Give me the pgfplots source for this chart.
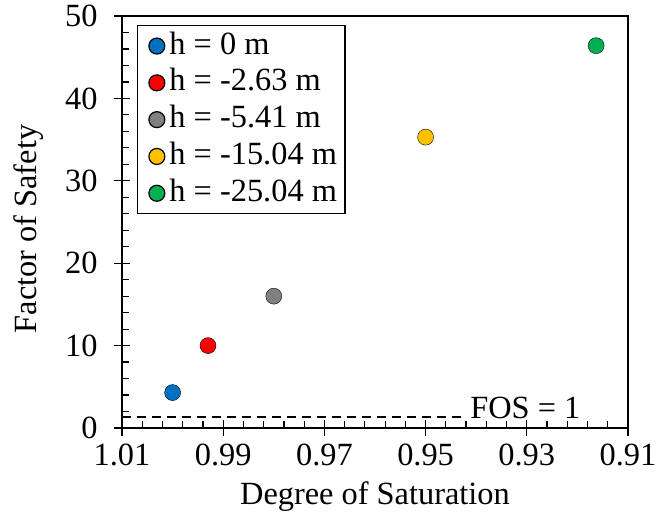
\documentclass[border=0pt]{standalone}
\usepackage{fontspec}
\setmainfont{Liberation Serif}
\usepackage{pgfplots}
\pgfplotsset{compat=1.18}
\definecolor{cblue}{RGB}{0,112,192}
\definecolor{cred}{RGB}{255,0,0}
\definecolor{cgray}{RGB}{128,128,128}
\definecolor{cyellow}{RGB}{255,192,0}
\definecolor{cgreen}{RGB}{0,176,80}
\newcommand{\bigf}{\fontsize{32.5}{37}\selectfont}

\begin{document}
\begin{tikzpicture}
\useasboundingbox (-122bp,-89bp) rectangle (536bp,428bp);
\begin{axis}[
    at={(0,0)}, anchor=south west,
    scale only axis, width=506bp, height=412bp,
    x dir=reverse,
    xmin=0.91, xmax=1.01, ymin=0, ymax=50,
    xtick={0.91,0.93,0.95,0.97,0.99,1.01},
    xticklabels={0.91,0.93,0.95,0.97,0.99,1.01},
    ytick={0,10,20,30,40,50},
    minor x tick num=4, minor y tick num=4,
    tick pos=left,
    tick align=center,
    major tick length=16bp, minor tick length=7bp,
    minor x tick style={yshift=3.5bp},
    minor y tick style={xshift=3.5bp},
    tick style={black, line width=1.2bp},
    axis line style={line width=1.2bp},
    ticklabel style={font=\bigf},
    xticklabel style={yshift=-4bp},
    yticklabel style={xshift=-13bp},
    /pgf/number format/assume math mode=true,
    label style={font=\bigf},
    xlabel={Degree of Saturation},
    ylabel={Factor of Safety},
    xlabel style={at={(axis description cs:0.5,-0.1665)}, anchor=center},
    ylabel style={at={(axis description cs:-0.1838,0.483)}, anchor=center},
    legend style={at={(axis description cs:0.0296,0.978)}, anchor=north west,
        draw=black, line width=1.2bp, font=\bigf, cells={anchor=west},
        inner xsep=4bp, inner ysep=2bp, row sep=0pt,
        nodes={inner xsep=4bp, inner ysep=1.4bp, text height=25bp, text depth=9bp}},
    legend image code/.code={%
        \path (-14.7bp,0bp) (8bp,0bp);
        \draw[#1] plot coordinates {(0bp,0bp)};},
    every axis plot/.append style={only marks, mark=*, mark size=8bp,
        mark options={draw=black, line width=1.5bp}},
]
\addplot[mark options={fill=cblue}] coordinates {(1.000,4.3)};
\addlegendentry{h = 0 m}
\addplot[mark options={fill=cred}] coordinates {(0.993,10.0)};
\addlegendentry{h = -2.63 m}
\addplot[mark options={fill=cgray}] coordinates {(0.980,16.0)};
\addlegendentry{h = -5.41 m}
\addplot[mark options={fill=cyellow}] coordinates {(0.950,35.3)};
\addlegendentry{h = -15.04 m}
\addplot[mark options={fill=cgreen}] coordinates {(0.9163,46.4)};
\addlegendentry{h = -25.04 m}
\addplot[sharp plot, no marks, black, line width=2bp, dash pattern=on 9bp off 6bp, forget plot]
    coordinates {(1.01,1.3)(0.9425,1.3)};
\node[anchor=base west, inner sep=0pt, font=\bigf] at (axis cs:0.9412,1.1) {FOS = 1};
\end{axis}
\end{tikzpicture}
\end{document}
